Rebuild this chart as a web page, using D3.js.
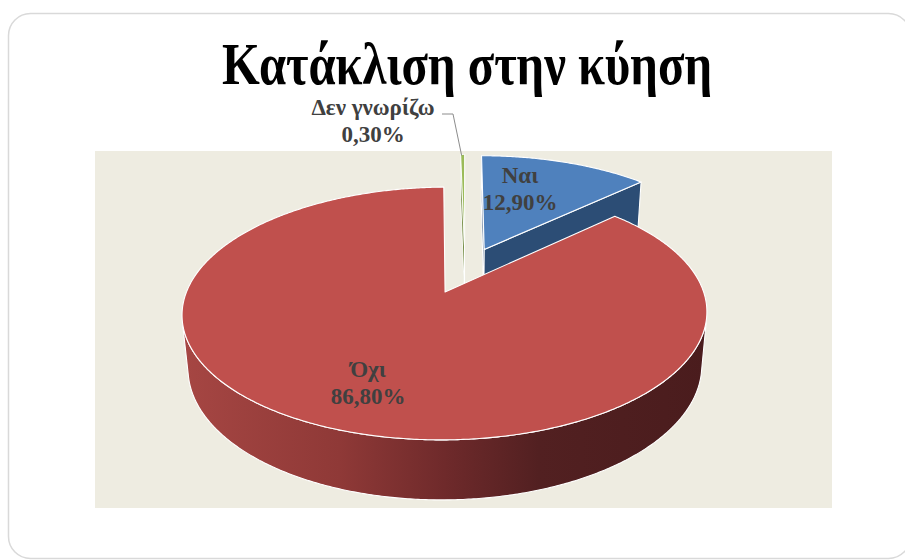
<!DOCTYPE html>
<html>
<head>
<meta charset="utf-8">
<script src="https://cdn.jsdelivr.net/npm/d3@7"></script>
<style>
  html, body { margin: 0; padding: 0; background: #fff; }
  svg { display: block; }
</style>
</head>
<body>
<svg id="chart" width="905" height="560"></svg>
<script>
// ---- data ----
const title = "Κατάκλιση στην κύηση";
const categories = ["Ναι", "Όχι", "Δεν γνωρίζω"];
const values = [12.9, 86.8, 0.3];
const valueLabels = ["12,90%", "86,80%", "0,30%"];

// ---- styles ----
const topColors = ["#4F81BD", "#C0504D", "#9BBB59"];
const sideColors = ["#2C4D75", "#8C3836", "#71893F"];
const serif = "'Liberation Serif', 'Times New Roman', 'DejaVu Serif', serif";

const svg = d3.select("#chart");

// card and plot area
svg.append("rect")
  .attr("x", 8.5).attr("y", 13.5).attr("width", 902).attr("height", 545)
  .attr("rx", 22).attr("fill", "#fff").attr("stroke", "#D9D9D9").attr("stroke-width", 1.5);
svg.append("rect")
  .attr("x", 95).attr("y", 151).attr("width", 737).attr("height", 357)
  .attr("fill", "#EEECE1");

// title
svg.append("text")
  .attr("x", 467).attr("y", 84)
  .attr("text-anchor", "middle")
  .attr("font-family", serif).attr("font-weight", "bold")
  .attr("font-size", 60).attr("fill", "#000")
  .attr("textLength", 490).attr("lengthAdjust", "spacingAndGlyphs")
  .text(title);

// ---- 3D pie: perspective view of a tilted cylinder ----
const view = { cx: 465, cy: 270, f: 1348.5, dist: 5.379, tilt: 27.4 * Math.PI / 180, depth: 0.238, explode: 0.2 };
const sinT = Math.sin(view.tilt), cosT = Math.cos(view.tilt);
const cam = [0, view.dist * sinT, view.dist * cosT];

// world: X right, Y up, Z toward viewer; unit pie radius
function project(X, Y, Z) {
  const v = Y * cosT - Z * sinT;
  const w = view.dist - Y * sinT - Z * cosT;
  return [view.cx + view.f * X / w, view.cy - view.f * v / w];
}

const arcs = d3.pie().sort(null).value(d => d)(values);
const line = d3.line();

const slices = arcs.map((a, i) => {
  const mid = (a.startAngle + a.endAngle) / 2;
  const off = [view.explode * Math.sin(mid), 0, -view.explode * Math.cos(mid)];
  return { i, a, mid, off };
});

function rim(s, t, Y) { return project(s.off[0] + Math.sin(t), Y, s.off[2] - Math.cos(t)); }
function apex(s, Y) { return project(s.off[0], Y, s.off[2]); }
function samples(a0, a1, stepDeg) {
  const n = Math.max(2, Math.ceil((a1 - a0) / (stepDeg * Math.PI / 180)));
  return d3.range(n + 1).map(k => a0 + (a1 - a0) * k / n);
}

// side gradient for the large slice
const defs = svg.append("defs");
const grad = defs.append("linearGradient").attr("id", "sideRed")
  .attr("gradientUnits", "userSpaceOnUse")
  .attr("x1", 182).attr("y1", 0).attr("x2", 707).attr("y2", 0);
[[0, "#A64643"], [0.3, "#8F3937"], [0.5, "#6F2A2B"], [0.68, "#522021"], [1, "#4A1C1D"]]
  .forEach(([o, c]) => grad.append("stop").attr("offset", o).attr("stop-color", c));

const sideFill = i => (i === 1 ? "url(#sideRed)" : sideColors[i]);

// draw farther slices first
const order = slices.slice().sort((p, q) => p.off[2] - q.off[2]);

const g = svg.append("g");
const h = -view.depth;

order.forEach(s => {
  const a0 = s.a.startAngle, a1 = s.a.endAngle;
  const sg = g.append("g");
  const strokeW = s.i === 2 ? 0.9 : 1.1;

  // outer curved side: only the parts facing the camera
  const ts = samples(a0, a1, 0.5);
  const vis = ts.map(t => {
    const px = s.off[0] + Math.sin(t), pz = s.off[2] - Math.cos(t);
    return Math.sin(t) * (cam[0] - px) - Math.cos(t) * (cam[2] - pz) > 0;
  });
  let run = [];
  const runs = [];
  ts.forEach((t, k) => {
    if (vis[k]) run.push(t);
    else if (run.length) { runs.push(run); run = []; }
  });
  if (run.length) runs.push(run);
  runs.filter(r => r.length > 1).forEach(r => {
    const pts = r.map(t => rim(s, t, 0)).concat(r.slice().reverse().map(t => rim(s, t, h)));
    sg.append("path").attr("d", line(pts) + "Z")
      .attr("fill", sideFill(s.i)).attr("stroke", "#fff").attr("stroke-width", strokeW)
      .attr("stroke-linejoin", "round");
  });

  // radial cut faces
  const O = [s.off[0], 0, s.off[2]];
  const faces = [
    { t: a0, n: [-Math.cos(a0), 0, -Math.sin(a0)] },
    { t: a1, n: [Math.cos(a1), 0, Math.sin(a1)] }
  ];
  faces.forEach(fc => {
    const d = fc.n[0] * (cam[0] - O[0]) + fc.n[2] * (cam[2] - O[2]);
    if (d <= 0) return;
    const pts = [apex(s, 0), rim(s, fc.t, 0), rim(s, fc.t, h), apex(s, h)];
    sg.append("path").attr("d", line(pts) + "Z")
      .attr("fill", s.i === 1 ? "#6F2A2B" : sideColors[s.i])
      .attr("stroke", "#fff").attr("stroke-width", strokeW).attr("stroke-linejoin", "round");
  });

  // top face
  const topPts = [apex(s, 0)].concat(samples(a0, a1, 0.5).map(t => rim(s, t, 0)));
  sg.append("path").attr("d", line(topPts) + "Z")
    .attr("fill", topColors[s.i]).attr("stroke", "#fff").attr("stroke-width", strokeW)
    .attr("stroke-linejoin", "round");
});

// ---- data labels ----
const labelAt = [
  { x: 520, y: 183 },   // Ναι
  { x: 368, y: 377 },   // Όχι
  { x: 373, y: 115 }    // Δεν γνωρίζω
];
const lineGap = 27;

categories.forEach((c, i) => {
  const t = svg.append("text")
    .attr("text-anchor", "middle")
    .attr("font-family", serif).attr("font-weight", "bold")
    .attr("font-size", 23).attr("fill", "#404040");
  t.append("tspan").attr("x", labelAt[i].x).attr("y", labelAt[i].y).text(c);
  t.append("tspan").attr("x", labelAt[i].x).attr("y", labelAt[i].y + lineGap).text(valueLabels[i]);
});

// leader line for the small slice
const small = slices[2];
const tip = rim(small, small.mid, 0);
svg.append("path")
  .attr("d", line([[442, 114], [453, 114], [tip[0] - 1, tip[1] + 1]]))
  .attr("fill", "none").attr("stroke", "#8C8C8C").attr("stroke-width", 1);
</script>
</body>
</html>
